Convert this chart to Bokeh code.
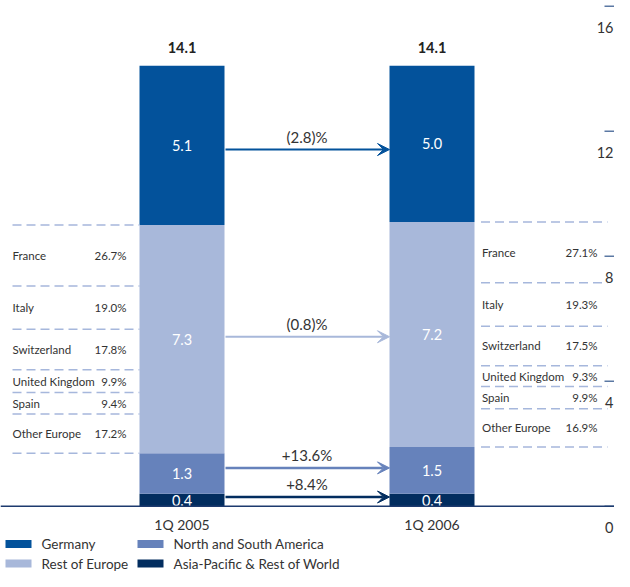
import numpy as np
from bokeh.plotting import figure
from bokeh.models import ColumnDataSource, Arrow, VeeHead, Span
from bokeh.core.properties import value
from bokeh.embed import file_html
from bokeh.resources import INLINE

# ---------------- data ----------------
periods = ["1Q 2005", "1Q 2006"]
regions = ["Germany", "Rest of Europe", "North and South America", "Asia-Pacific & Rest of World"]
germany = [5.1, 5.0]
rest_of_europe = [7.3, 7.2]
americas = [1.3, 1.5]
asia_pacific = [0.4, 0.4]
totals = [14.1, 14.1]
changes = ["(2.8)%", "(0.8)%", "+13.6%", "+8.4%"]   # Germany, Rest of Europe, Americas, Asia-Pacific
countries = ["France", "Italy", "Switzerland", "United Kingdom", "Spain", "Other Europe"]
shares_2005 = [26.7, 19.0, 17.8, 9.9, 9.4, 17.2]
shares_2006 = [27.1, 19.3, 17.5, 9.3, 9.9, 16.9]
y_ticks = [0, 4, 8, 12, 16]

# ---------------- style / layout ----------------
C_GER = "#03529b"
C_ROE = "#a8b8da"
C_AME = "#6682bb"
C_ASIA = "#022d5f"
C_TEXT = "#333333"
C_DASH = "#a6b7dc"
FONT = "Lato"

W, H = 614, 571
X0_PX, XS = 181.5, 250.0      # px of first bar centre, px per x unit
Y0_PX, YS = 505.75, 31.25     # px of zero, px per value unit
BAR_W = 85 / XS

def dx(px):
    return (px - X0_PX) / XS

def dy(py):
    return (Y0_PX - py) / YS

p = figure(width=W, height=H, output_backend="svg", toolbar_location=None,
           x_range=(dx(0), dx(W)), y_range=(dy(H), dy(0)),
           x_axis_location=None, y_axis_location=None,
           min_border=0, outline_line_color=None, background_fill_color="white",
           border_fill_color="white")
p.grid.visible = False

xs = [0.0, 1.0]

# stacked bars
src = ColumnDataSource(dict(x=xs, asia=asia_pacific, ame=americas, roe=rest_of_europe, ger=germany))
p.vbar_stack(["asia", "ame", "roe", "ger"], x="x", width=BAR_W, source=src,
             color=[C_ASIA, C_AME, C_ROE, C_GER], line_width=0)

# baseline
p.add_layout(Span(location=0, dimension="width", line_color="#1d3a6e", line_width=1.5))

# segment labels
stack_order = [asia_pacific, americas, rest_of_europe, germany]
seg_x, seg_y, seg_t = [], [], []
mids = []
for i in range(2):
    base = 0.0
    m = []
    for vals in stack_order:
        v = vals[i]
        seg_x.append(xs[i]); seg_y.append(base + v / 2); seg_t.append(f"{v:.1f}")
        m.append(base + v / 2)
        base += v
    mids.append(m)
p.text(x=seg_x, y=seg_y, text=seg_t, text_color="white", text_font=value(FONT),
       text_font_size="14.5px", text_align="center", text_baseline="middle")

# totals
p.text(x=xs, y=totals, text=[f"{t:.1f}" for t in totals], text_color="#222222",
       text_font=value(FONT), text_font_size="14.5px", text_font_style="bold",
       text_align="center", text_baseline="middle", y_offset=-18)

# arrows between bars (order bottom->top of stack: asia, americas, roe, germany)
arrow_cols = [C_ASIA, C_AME, C_ROE, C_GER]
arrow_lw = [2.5, 2.5, 2, 2]
arrow_nudge_px = [-3, -4, 0, 5]
arrow_labels = [changes[3], changes[2], changes[1], changes[0]]
ay_list = []
for k in range(4):
    ay = (mids[0][k] + mids[1][k]) / 2 - arrow_nudge_px[k] / YS
    ay_list.append(ay)
    c = arrow_cols[k]
    p.add_layout(Arrow(end=VeeHead(size=12, fill_color=c, line_color=c, line_width=1),
                       x_start=xs[0] + BAR_W / 2 + 0.004, y_start=ay,
                       x_end=xs[1] - BAR_W / 2, y_end=ay,
                       line_color=c, line_width=arrow_lw[k]))
p.text(x=[(xs[0] + xs[1]) / 2] * 4, y=ay_list, text=arrow_labels, text_color=C_TEXT,
       text_font=value(FONT), text_font_size="15px", text_align="center",
       text_baseline="middle", y_offset=-13)

# Rest of Europe breakdown
def breakdown(i, shares, x0px, x1px, name_px, pct_px):
    top = asia_pacific[i] + americas[i] + rest_of_europe[i]
    cum = np.concatenate([[0.0], np.cumsum(shares)])
    bounds = top - rest_of_europe[i] * cum / 100.0
    p.segment(x0=[dx(x0px)] * len(bounds), x1=[dx(x1px)] * len(bounds), y0=bounds, y1=bounds,
              line_color=C_DASH, line_width=1.5, line_dash="9 5")
    ymid = (bounds[:-1] + bounds[1:]) / 2
    p.text(x=[dx(name_px)] * len(countries), y=ymid, text=countries, text_color=C_TEXT,
           text_font=value(FONT), text_font_size="11.5px", text_align="left", text_baseline="middle")
    p.text(x=[dx(pct_px)] * len(countries), y=ymid, text=[f"{s:.1f}%" for s in shares],
           text_color=C_TEXT, text_font=value(FONT), text_font_size="11.5px",
           text_align="right", text_baseline="middle")

breakdown(0, shares_2005, 12, 139, 12, 126)
breakdown(1, shares_2006, 480.5, 607, 481.5, 597)

# category labels
p.text(x=xs, y=[0, 0], text=periods, text_color=C_TEXT, text_font=value(FONT),
       text_font_size="14px", text_align="center", text_baseline="middle", y_offset=18)

# right value scale
p.segment(x0=[dx(604)] * len(y_ticks), x1=[dx(614)] * len(y_ticks), y0=y_ticks, y1=y_ticks,
          line_color="#5b78a3", line_width=1.5)
p.text(x=[dx(613)] * len(y_ticks), y=y_ticks, text=[str(t) for t in y_ticks], text_color=C_TEXT,
       text_font=value(FONT), text_font_size="14.5px", text_align="right",
       text_baseline="middle", y_offset=21)

# legend
leg_cols = [C_GER, C_ROE, C_AME, C_ASIA]
sw_x0 = [5, 5, 137, 137]
sw_x1 = [31, 31, 163, 163]
tx = [41, 41, 173, 173]
rows_py = [543.5, 563, 543.5, 563]
p.quad(left=[dx(a) for a in sw_x0], right=[dx(b) for b in sw_x1],
       top=[dy(r - 4) for r in rows_py], bottom=[dy(r + 4) for r in rows_py],
       color=leg_cols, line_width=0)
p.text(x=[dx(t) for t in tx], y=[dy(r) for r in rows_py], text=regions, text_color=C_TEXT,
       text_font=value(FONT), text_font_size="13.5px", text_align="left", text_baseline="middle")

open("out.html", "w").write(file_html(p, INLINE))
